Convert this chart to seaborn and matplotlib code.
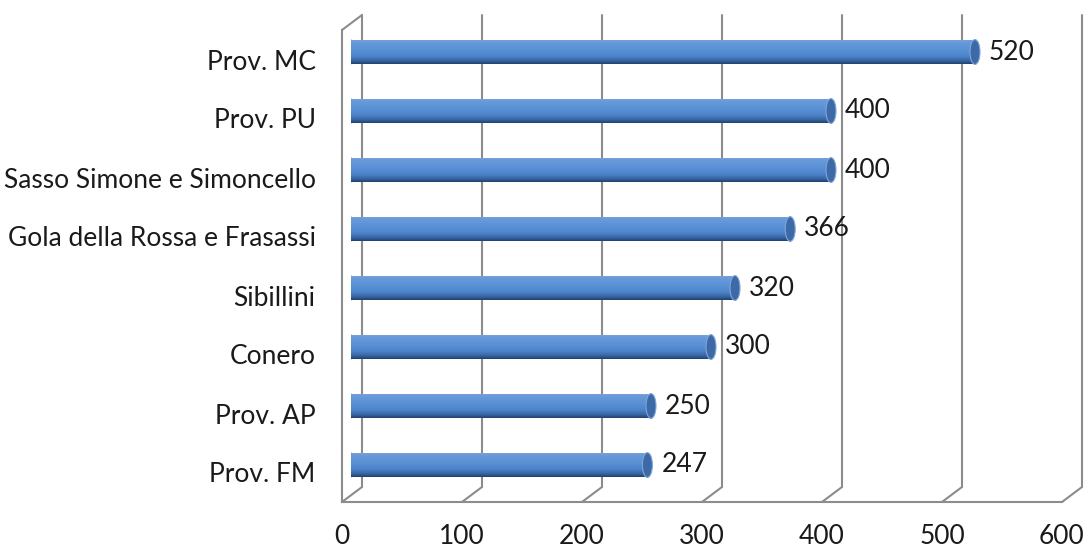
import numpy as np
import pandas as pd
import matplotlib
matplotlib.use("Agg")
import matplotlib.pyplot as plt
import seaborn as sns
from matplotlib.patches import Ellipse
from matplotlib.colors import to_rgb

categories = ["Prov. MC", "Prov. PU", "Sasso Simone e Simoncello",
              "Gola della Rossa e Frasassi", "Sibillini", "Conero",
              "Prov. AP", "Prov. FM"]
values = [520, 400, 400, 366, 320, 300, 250, 247]
x_ticks = [0, 100, 200, 300, 400, 500, 600]

sns.set_theme(style="white")
plt.rcParams["font.family"] = ["Lato", "DejaVu Sans"]

W, H = 1084, 551
fig = plt.figure(figsize=(W / 100, H / 100), dpi=100)

# front plane (axes, ticks, labels)
fl, fb, fw, fh = 342, 502, 720, 472
axf = fig.add_axes([fl / W, (H - fb) / H, fw / W, fh / H])
axf.set_xlim(0, 600)
axf.set_ylim(len(categories) - 0.5, -0.5)
axf.patch.set_alpha(0)
grid_c = "#8c8c8c"
for s in ["top", "right"]:
    axf.spines[s].set_visible(False)
for s in ["left", "bottom"]:
    axf.spines[s].set_color(grid_c)
    axf.spines[s].set_linewidth(1.5)

axf.set_xticks(x_ticks)
axf.set_xticklabels([str(t) for t in x_ticks], fontsize=19, color="#1a1a1a")
axf.tick_params(axis="x", direction="out", length=6, width=1.5, color=grid_c, pad=10)
axf.set_yticks(range(len(categories)))
axf.set_yticklabels(categories, fontsize=19, color="#1a1a1a")
axf.tick_params(axis="y", which="major", length=0, pad=19)
axf.set_yticks(np.arange(-0.5, len(categories), 1.0), minor=True)
axf.tick_params(axis="y", which="minor", direction="out", length=7, width=1.5, color=grid_c)

# depth offset (back wall) in front data units
dx = 20 * 600 / fw
dy = 15 * len(categories) / fh
ybot, ytop = len(categories) - 0.5, -0.5
for t in x_ticks:
    axf.plot([t + dx, t + dx], [ybot - dy, ytop - dy], color=grid_c, lw=1.5, clip_on=False, zorder=1)
    axf.plot([t, t + dx], [ybot, ybot - dy], color=grid_c, lw=1.5, clip_on=False, zorder=1)
axf.plot([0, dx], [ytop, ytop - dy], color=grid_c, lw=1.5, clip_on=False, zorder=1)

# bar plane
bl, bb = 351, 494.5
axb = fig.add_axes([bl / W, (H - bb) / H, fw / W, fh / H])
axb.patch.set_alpha(0)
df = pd.DataFrame({"cat": categories, "val": values})
sns.barplot(data=df, x="val", y="cat", orient="h", color="#5890d6", width=0.42,
            linewidth=0, ax=axb)
axb.set_xlim(0, 600)
axb.set_ylim(len(categories) - 0.5, -0.5)
axb.axis("off")

stops = [(0.0, "#7ea7dc"), (0.1, "#6a9bd9"), (0.45, "#5890d6"), (0.7, "#4b82c8"),
         (0.88, "#36639f"), (1.0, "#22416c")]
n = 64
pos = np.linspace(0, 1, n)
grad = np.zeros((n, 1, 3))
for k in range(3):
    grad[:, 0, k] = np.interp(pos, [p for p, _ in stops], [to_rgb(c)[k] for _, c in stops])

cap_w = 10 * 600 / fw
for p in axb.patches:
    if not hasattr(p, "get_width"):
        continue
    x0, y0, w, h = p.get_x(), p.get_y(), p.get_width(), p.get_height()
    if w <= 0:
        continue
    yc = y0 + h / 2
    left = Ellipse((0, yc), cap_w * 0.7, h, facecolor="#5890d6", edgecolor="none", zorder=2)
    axb.add_patch(left)
    im = axb.imshow(grad, extent=(x0, x0 + w, y0 + h, y0), origin="upper", aspect="auto", zorder=3)
    im.set_clip_path(p)
    im2 = axb.imshow(grad, extent=(-cap_w, cap_w, y0 + h, y0), origin="upper", aspect="auto", zorder=2.5)
    im2.set_clip_path(left)
    cap = Ellipse((x0 + w, yc), cap_w, h, facecolor="#3d6aa6", edgecolor="#7fa6d8", lw=0.8, zorder=4)
    axb.add_patch(cap)
    axb.annotate(f"{int(round(w))}", (x0 + w, yc), xytext=(10, 0), textcoords="offset points",
                 ha="left", va="center", fontsize=19, color="#1a1a1a", zorder=5)

axb.set_xlim(0, 600)
axb.set_ylim(len(categories) - 0.5, -0.5)

fig.savefig("out.png", dpi=100)
